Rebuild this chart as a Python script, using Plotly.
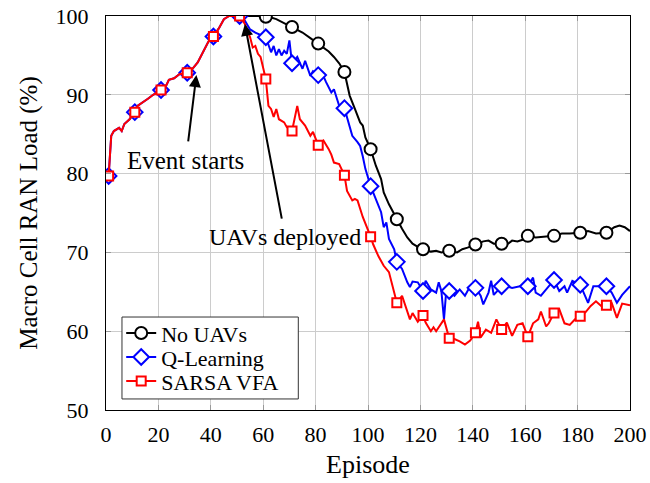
import plotly.graph_objects as go

# episodes 1..51: all learning curves share the same rise
shared_ep = [1, 2, 3, 5, 6, 7, 9, 11, 12, 14, 16, 18, 21, 23, 24, 26, 28, 31, 33, 35, 37, 39,
             41, 43, 45, 47, 49, 51]
shared_val = [79.7, 84.8, 85.4, 85.8, 85.4, 86.3, 86.9, 87.8, 88.6, 89.0, 89.5, 90.0, 90.6, 91.2,
              91.9, 92.1, 92.6, 92.8, 93.3, 94.1, 95.4, 96.7, 97.4, 98.4, 99.6, 100.0, 100.0, 100.0]

no_uav_ep = [51, 55, 58, 61, 63, 65, 68, 71, 73, 75, 78, 81, 83, 85, 87, 89, 91, 93, 95, 97, 98,
             99, 101, 103, 105, 106, 108, 111, 113, 115, 117, 119, 121, 124, 126, 128, 131, 134,
             136, 138, 141, 144, 146, 148, 151, 153, 155, 157, 159, 161, 164, 168, 171, 174, 177,
             181, 184, 187, 191, 194, 196, 198, 200]
no_uav_val = [100.0, 100.0, 100.0, 99.9, 99.8, 99.6, 99.1, 98.6, 98.3, 97.9, 97.2, 96.5, 96.0,
              95.5, 94.8, 94.0, 92.9, 89.9, 88.2, 86.5, 86.1, 84.6, 83.1, 81.0, 79.3, 77.6, 76.1,
              74.2, 73.0, 71.9, 71.1, 70.7, 70.4, 70.1, 70.2, 70.0, 70.2, 70.0, 70.4, 70.6, 71.0,
              71.4, 71.5, 71.1, 71.1, 71.0, 71.5, 71.4, 71.6, 72.1, 71.9, 72.0, 72.1, 72.4, 72.4,
              72.5, 72.7, 72.4, 72.5, 73.2, 73.4, 73.2, 72.7]

q_ep = [53, 55, 57, 59, 61, 63, 64, 65, 66, 67, 68, 69, 70, 71, 73, 75, 76, 78, 79, 81, 82, 84,
        86, 87, 89, 91, 93, 94, 96, 97, 98, 99, 101, 103, 105, 106, 107, 108, 110, 111, 113, 115,
        116, 117, 119, 121, 122, 124, 126, 127, 128, 129, 130, 131, 133, 135, 137, 139, 141, 143,
        144, 146, 147, 148, 151, 153, 155, 158, 161, 163, 164, 166, 168, 169, 171, 173, 175, 176,
        178, 181, 183, 184, 186, 188, 191, 193, 195, 197, 200]
q_val = [99.4, 98.3, 97.9, 97.6, 97.3, 95.4, 96.2, 95.0, 95.8, 95.0, 95.6, 95.2, 96.9, 94.0, 94.8,
         93.3, 94.3, 92.4, 93.0, 92.5, 93.1, 91.6, 90.3, 90.7, 88.6, 88.3, 86.1, 84.8, 84.0, 83.5,
         82.2, 80.6, 78.4, 76.8, 75.1, 73.2, 73.8, 71.7, 70.4, 68.8, 67.9, 66.2, 65.6, 66.3, 66.2,
         65.1, 66.4, 65.3, 64.9, 66.2, 65.1, 61.5, 65.7, 65.1, 64.5, 65.3, 64.5, 65.7, 65.5, 64.5,
         63.4, 64.9, 66.4, 64.6, 65.7, 65.7, 65.5, 65.7, 65.7, 66.8, 64.9, 64.5, 65.3, 65.7, 66.5,
         65.1, 65.7, 64.9, 66.4, 65.9, 64.5, 63.6, 65.7, 65.7, 65.7, 64.9, 63.6, 64.6, 65.7]

sarsa_ep = [53, 55, 56, 57, 58, 59, 61, 62, 63, 64, 65, 66, 68, 69, 71, 73, 74, 76, 78, 79, 81,
            83, 85, 86, 87, 89, 91, 92, 94, 95, 96, 98, 101, 102, 104, 106, 108, 109, 111, 113,
            114, 116, 117, 119, 121, 122, 124, 125, 126, 128, 129, 131, 133, 135, 137, 139, 141,
            142, 143, 145, 147, 149, 151, 153, 155, 157, 159, 161, 163, 165, 166, 168, 169, 171,
            173, 175, 177, 179, 181, 183, 185, 187, 189, 191, 193, 195, 197, 200]
sarsa_val = [99.0, 97.3, 96.0, 96.2, 95.2, 94.8, 92.0, 88.6, 88.2, 87.2, 88.2, 86.9, 86.5, 85.9,
             85.4, 88.6, 86.9, 86.1, 84.8, 85.3, 83.6, 84.2, 83.1, 82.4, 81.4, 81.2, 79.8, 77.8,
             76.6, 76.8, 76.6, 74.5, 72.0, 71.0, 69.5, 68.3, 67.5, 66.2, 63.6, 64.5, 63.4, 61.5,
             62.3, 61.2, 62.0, 61.1, 60.0, 60.5, 60.0, 61.1, 61.5, 59.1, 59.0, 58.7, 58.3, 58.8,
             59.8, 61.2, 59.2, 60.2, 59.8, 61.5, 60.2, 61.1, 59.4, 60.8, 61.0, 59.3, 61.0, 61.5,
             62.5, 60.6, 61.0, 62.3, 62.8, 61.0, 60.8, 61.5, 61.9, 62.4, 63.2, 63.8, 63.2, 63.3,
             63.6, 61.7, 63.5, 63.3]

marker_eps = list(range(1, 200, 10))

FONT = "Liberation Serif"


def add_series(fig, eps, vals, name, color, symbol, size, legend, first_mark=1):
    # line through every episode, marks only every 10th episode
    fig.add_trace(go.Scatter(x=eps, y=vals, mode="lines", line=dict(color=color, width=2),
                             showlegend=False, hoverinfo="skip"))
    mx = [e for e in eps if e in marker_eps and e >= first_mark]
    my = [v for e, v in zip(eps, vals) if e in marker_eps and e >= first_mark]
    fig.add_trace(go.Scatter(x=mx, y=my, mode="markers", showlegend=False,
                             marker=dict(symbol=symbol, size=size, color="white",
                                         line=dict(color=color, width=2))))
    # legend entry (one legend per row so the rows can sit close together)
    fig.add_trace(go.Scatter(x=[None], y=[None], mode="lines+markers", name=name, legend=legend,
                             line=dict(color=color, width=2),
                             marker=dict(symbol=symbol, size=size, color="white",
                                         line=dict(color=color, width=2))))


fig = go.Figure()
add_series(fig, no_uav_ep, no_uav_val, "No UAVs", "black", "circle", 12, "legend",
           first_mark=61)
add_series(fig, shared_ep + q_ep, shared_val + q_val, "Q-Learning", "blue", "diamond", 12,
           "legend2")
add_series(fig, shared_ep + sarsa_ep, shared_val + sarsa_val, "SARSA VFA", "red", "square", 9,
           "legend3")

# arrows + labels
fig.add_annotation(x=34.5, y=92.5, ax=31.3, ay=83.9, xref="x", yref="y", axref="x", ayref="y",
                   showarrow=True, arrowhead=2, arrowsize=1.2, arrowwidth=2, arrowcolor="black",
                   text="")
fig.add_annotation(x=30.5, y=81.7, text="Event starts", showarrow=False,
                   font=dict(family=FONT, size=25, color="black"))
fig.add_annotation(x=53.0, y=99.0, ax=67.2, ay=74.1, xref="x", yref="y", axref="x", ayref="y",
                   showarrow=True, arrowhead=2, arrowsize=1.2, arrowwidth=2, arrowcolor="black",
                   text="")
fig.add_annotation(x=68.5, y=72.0, text="UAVs deployed", showarrow=False,
                   font=dict(family=FONT, size=24, color="black"))

# legend frame
fig.add_shape(type="rect", xref="paper", yref="paper", x0=0.0305, x1=0.367, y0=0.028, y1=0.236,
              line=dict(color="#333333", width=1), fillcolor="white", layer="above")

axis_common = dict(showline=True, linecolor="black", linewidth=1, mirror="ticks",
                   ticks="inside", ticklen=5, tickcolor="#999999", showgrid=True,
                   gridcolor="#cccccc", gridwidth=1, zeroline=False, automargin=False,
                   tickfont=dict(family=FONT, size=22, color="black"))

fig.update_xaxes(range=[0, 200], dtick=20, ticklabelstandoff=5,
                 title=dict(text="Episode", font=dict(family=FONT, size=26, color="black"),
                            standoff=8),
                 **axis_common)
fig.update_yaxes(range=[50, 100], dtick=10, ticklabelstandoff=12,
                 title=dict(text="Macro Cell RAN Load (%)",
                            font=dict(family=FONT, size=25, color="black"), standoff=10),
                 **axis_common)

leg = dict(xanchor="left", yanchor="middle", bgcolor="rgba(0,0,0,0)", borderwidth=0,
           itemwidth=30, font=dict(family=FONT, size=22, color="black"))
fig.update_layout(
    width=650, height=483,
    margin=dict(l=106, r=20, t=16, b=73),
    font=dict(family=FONT, color="black"),
    plot_bgcolor="white", paper_bgcolor="white",
    legend=dict(x=0.029, y=0.195, **leg),
    legend2=dict(x=0.029, y=0.134, **leg),
    legend3=dict(x=0.029, y=0.073, **leg),
)

# no page margin, so the 650x483 figure fills the window exactly
fig.write_html("out.html", config={"displayModeBar": False},
               post_script="document.body.style.margin = '0';")
